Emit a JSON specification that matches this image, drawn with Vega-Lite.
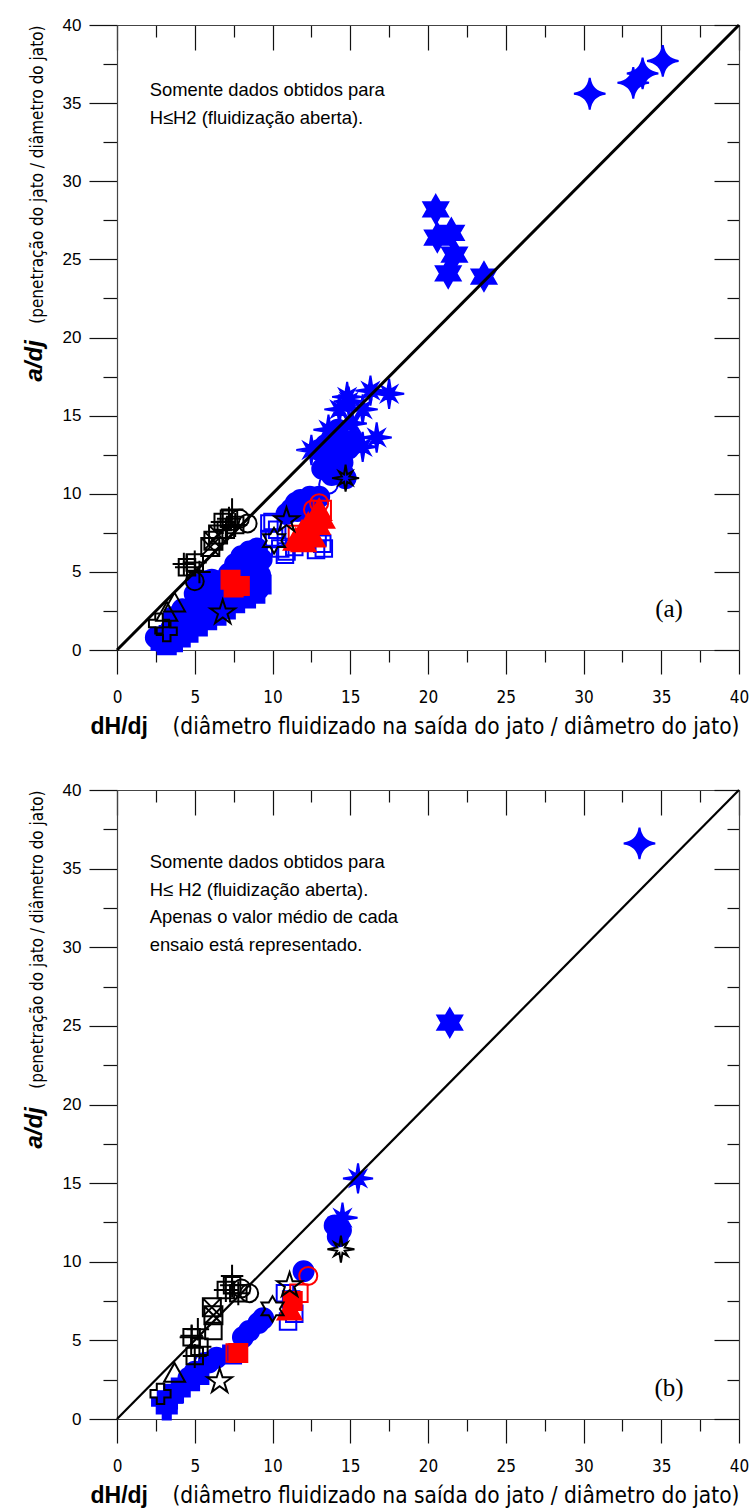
{
  "$schema": "https://vega.github.io/schema/vega-lite/v6.json",
  "background": "white",
  "padding": {"left": 22, "top": 16, "right": 5, "bottom": 5},
  "autosize": {"type": "pad"},
  "spacing": 43,
  "config": {
    "view": {"stroke": null},
    "axis": {"grid": false, "domainColor": "#444444", "tickColor": "#111111", "labelColor": "black", "titleColor": "black", "tickWidth": 1.2, "domainWidth": 1.2}
  },
  "datasets": {
    "a": [
      {"x":2.5,"y":0.8,"s":"bc"},{"x":2.9,"y":0.5,"s":"bc"},{"x":3.2,"y":1.0,"s":"bc"},{"x":3.5,"y":1.4,"s":"bc"},{"x":3.8,"y":0.9,"s":"bc"},{"x":4.0,"y":1.8,"s":"bc"},{"x":4.3,"y":1.3,"s":"bc"},{"x":4.5,"y":2.3,"s":"bc"},{"x":4.7,"y":1.7,"s":"bc"},{"x":4.9,"y":2.8,"s":"bc"},{"x":5.0,"y":3.6,"s":"bc"},{"x":5.2,"y":4.2,"s":"bc"},{"x":5.3,"y":2.2,"s":"bc"},{"x":5.5,"y":3.1,"s":"bc"},{"x":5.7,"y":4.4,"s":"bc"},{"x":5.8,"y":2.6,"s":"bc"},{"x":6.0,"y":3.6,"s":"bc"},{"x":6.1,"y":4.5,"s":"bc"},{"x":6.3,"y":3.0,"s":"bc"},{"x":6.5,"y":4.4,"s":"bc"},{"x":6.6,"y":3.8,"s":"bc"},{"x":6.8,"y":2.8,"s":"bc"},{"x":7.0,"y":3.4,"s":"bc"},{"x":7.2,"y":4.9,"s":"bc"},{"x":7.4,"y":3.1,"s":"bc"},{"x":7.6,"y":5.5,"s":"bc"},{"x":7.9,"y":4.8,"s":"bc"},{"x":8.0,"y":6.0,"s":"bc"},{"x":8.2,"y":3.5,"s":"bc"},{"x":8.3,"y":5.3,"s":"bc"},{"x":8.5,"y":6.3,"s":"bc"},{"x":8.6,"y":4.3,"s":"bc"},{"x":8.8,"y":5.6,"s":"bc"},{"x":9.0,"y":6.5,"s":"bc"},{"x":9.1,"y":3.9,"s":"bc"},{"x":9.2,"y":4.8,"s":"bc"},{"x":9.3,"y":5.8,"s":"bc"},{"x":6.2,"y":2.4,"s":"bc"},{"x":5.6,"y":2.0,"s":"bc"},{"x":4.2,"y":2.6,"s":"bc"},{"x":3.6,"y":2.1,"s":"bc"},
      {"x":11.2,"y":9.0,"s":"bc"},{"x":11.5,"y":9.4,"s":"bc"},{"x":11.8,"y":9.6,"s":"bc"},{"x":12.1,"y":9.3,"s":"bc"},{"x":12.4,"y":9.8,"s":"bc"},{"x":12.7,"y":9.5,"s":"bc"},{"x":13.0,"y":9.8,"s":"bc"},{"x":11.6,"y":8.9,"s":"bc"},{"x":12.2,"y":8.8,"s":"bc"},{"x":10.9,"y":8.7,"s":"bc"},
      {"x":13.2,"y":11.6,"s":"bc"},{"x":13.5,"y":12.3,"s":"bc"},{"x":13.4,"y":13.1,"s":"bc"},{"x":13.9,"y":13.7,"s":"bc"},{"x":14.2,"y":12.7,"s":"bc"},{"x":14.5,"y":12.0,"s":"bc"},{"x":14.9,"y":12.9,"s":"bc"},{"x":15.2,"y":13.4,"s":"bc"},{"x":13.0,"y":12.8,"s":"bc"},{"x":13.8,"y":11.2,"s":"bc"},{"x":14.2,"y":14.1,"s":"bc"},{"x":14.7,"y":11.0,"s":"bc"},
      {"x":2.8,"y":0.6,"s":"bs"},{"x":3.2,"y":0.3,"s":"bs"},{"x":3.6,"y":0.5,"s":"bs"},{"x":4.1,"y":0.8,"s":"bs"},{"x":4.6,"y":1.1,"s":"bs"},{"x":5.2,"y":1.5,"s":"bs"},{"x":5.8,"y":1.9,"s":"bs"},{"x":6.4,"y":2.2,"s":"bs"},{"x":7.0,"y":2.6,"s":"bs"},{"x":7.6,"y":3.0,"s":"bs"},{"x":8.3,"y":3.3,"s":"bs"},{"x":8.9,"y":3.6,"s":"bs"},{"x":9.3,"y":4.2,"s":"bs"},
      {"x":3.0,"y":0.9,"s":"bx"},{"x":3.4,"y":0.8,"s":"bx"},
      {"x":9.8,"y":8.1,"s":"bos"},{"x":9.8,"y":7.1,"s":"bos"},{"x":10.0,"y":8.2,"s":"bos"},{"x":10.1,"y":7.2,"s":"bos"},{"x":10.3,"y":7.7,"s":"bos"},{"x":10.5,"y":6.5,"s":"bos"},{"x":10.9,"y":6.3,"s":"bos"},{"x":10.8,"y":6.1,"s":"bos"},{"x":12.9,"y":7.2,"s":"bos"},{"x":13.3,"y":6.5,"s":"bos"},{"x":12.8,"y":6.4,"s":"bos"},{"x":13.2,"y":6.8,"s":"bos"},{"x":11.4,"y":6.6,"s":"bos"},
      {"x":14.6,"y":11.3,"s":"boc"},{"x":13.6,"y":10.6,"s":"boc"},
      {"x":14.8,"y":16.2,"s":"b8"},{"x":16.3,"y":16.6,"s":"b8"},{"x":17.5,"y":16.4,"s":"b8"},{"x":15.8,"y":15.4,"s":"b8"},{"x":16.7,"y":13.6,"s":"b8"},{"x":12.5,"y":12.8,"s":"b8"},{"x":15.8,"y":13.0,"s":"b8"},{"x":14.3,"y":15.4,"s":"b8"},{"x":15.1,"y":14.5,"s":"b8"},{"x":13.6,"y":14.1,"s":"b8"},{"x":14.9,"y":15.9,"s":"b8"},
      {"x":20.5,"y":28.2,"s":"b6"},{"x":20.6,"y":26.4,"s":"b6"},{"x":21.5,"y":26.7,"s":"b6"},{"x":21.7,"y":25.3,"s":"b6"},{"x":21.3,"y":24.1,"s":"b6"},{"x":23.6,"y":23.9,"s":"b6"},
      {"x":30.4,"y":35.6,"s":"b4"},{"x":33.2,"y":36.3,"s":"b4"},{"x":33.8,"y":36.9,"s":"b4"},{"x":35.1,"y":37.7,"s":"b4"},
      {"x":7.3,"y":4.5,"s":"rs"},{"x":7.9,"y":4.1,"s":"rs"},{"x":7.5,"y":4.0,"s":"rs"},
      {"x":11.6,"y":7.4,"s":"ros"},{"x":12.8,"y":8.0,"s":"ros"},{"x":13.2,"y":9.0,"s":"ros"},
      {"x":11.5,"y":7.0,"s":"rt"},{"x":11.9,"y":7.5,"s":"rt"},{"x":12.3,"y":8.0,"s":"rt"},{"x":12.7,"y":8.4,"s":"rt"},{"x":13.0,"y":8.9,"s":"rt"},{"x":12.0,"y":6.9,"s":"rt"},{"x":12.6,"y":7.2,"s":"rt"},{"x":12.2,"y":7.6,"s":"rt"},{"x":12.9,"y":8.0,"s":"rt"},{"x":13.2,"y":8.4,"s":"rt"},{"x":11.8,"y":7.0,"s":"rt"},
      {"x":13.0,"y":9.4,"s":"roc"},{"x":12.6,"y":9.0,"s":"roc"},
      {"x":2.7,"y":1.7,"s":"kp"},{"x":3.2,"y":1.2,"s":"kp"},
      {"x":3.7,"y":3.0,"s":"kt"},{"x":3.2,"y":2.4,"s":"kt"},
      {"x":4.5,"y":5.3,"s":"kh"},{"x":5.0,"y":5.6,"s":"kh"},{"x":6.8,"y":8.2,"s":"kh"},{"x":7.2,"y":8.4,"s":"kh"},{"x":7.6,"y":8.0,"s":"kh"},{"x":7.0,"y":7.7,"s":"kh"},
      {"x":6.2,"y":7.0,"s":"kq"},{"x":6.0,"y":6.6,"s":"kq"},{"x":6.5,"y":7.4,"s":"kq"},
      {"x":8.4,"y":8.1,"s":"ko"},{"x":7.9,"y":8.4,"s":"ko"},{"x":5.0,"y":4.4,"s":"ko"},
      {"x":7.4,"y":9.0,"s":"kc"},{"x":5.3,"y":5.0,"s":"kc"},{"x":4.3,"y":5.5,"s":"kc"},
      {"x":6.8,"y":2.4,"s":"k5"},{"x":10.9,"y":8.3,"s":"k5"},
      {"x":10.1,"y":7.0,"s":"k6"},
      {"x":14.7,"y":11.0,"s":"k8"}
    ],
    "b": [
      {"x":8.5,"y":5.6,"s":"bc"},{"x":9.1,"y":6.1,"s":"bc"},{"x":9.4,"y":6.4,"s":"bc"},{"x":8.1,"y":5.2,"s":"bc"},{"x":5.9,"y":3.6,"s":"bc"},{"x":6.4,"y":3.9,"s":"bc"},{"x":5.0,"y":3.0,"s":"bc"},{"x":4.6,"y":2.6,"s":"bc"},{"x":12.0,"y":9.4,"s":"bc"},{"x":14.0,"y":12.3,"s":"bc"},{"x":14.4,"y":12.0,"s":"bc"},{"x":14.2,"y":11.6,"s":"bc"},
      {"x":3.6,"y":1.6,"s":"bs"},{"x":4.1,"y":2.0,"s":"bs"},{"x":4.7,"y":2.4,"s":"bs"},{"x":5.3,"y":2.8,"s":"bs"},{"x":3.2,"y":1.2,"s":"bs"},{"x":7.4,"y":4.1,"s":"bs"},
      {"x":2.9,"y":1.1,"s":"bx"},{"x":3.2,"y":0.6,"s":"bx"},{"x":3.6,"y":1.3,"s":"bx"},
      {"x":10.8,"y":8.0,"s":"bos"},{"x":11.0,"y":6.2,"s":"bos"},{"x":11.4,"y":6.7,"s":"bos"},{"x":11.2,"y":7.6,"s":"bos"},
      {"x":5.6,"y":3.6,"s":"boc"},
      {"x":15.5,"y":15.3,"s":"b8"},{"x":14.5,"y":12.8,"s":"b8"},
      {"x":21.4,"y":25.2,"s":"b6"},
      {"x":33.6,"y":36.6,"s":"b4"},
      {"x":7.8,"y":4.2,"s":"rs"},{"x":11.3,"y":7.5,"s":"rs"},
      {"x":7.6,"y":4.2,"s":"ros"},{"x":11.7,"y":8.0,"s":"ros"},
      {"x":11.1,"y":6.9,"s":"rt"},
      {"x":12.3,"y":9.1,"s":"roc"},
      {"x":2.8,"y":1.6,"s":"kp"},
      {"x":3.7,"y":2.9,"s":"kt"},
      {"x":4.8,"y":5.2,"s":"kh"},{"x":5.3,"y":4.6,"s":"kh"},{"x":5.0,"y":4.0,"s":"kh"},{"x":7.0,"y":8.2,"s":"kh"},{"x":7.4,"y":8.5,"s":"kh"},{"x":7.8,"y":8.0,"s":"kh"},
      {"x":6.1,"y":7.1,"s":"kq"},{"x":6.2,"y":6.6,"s":"kq"},
      {"x":6.2,"y":5.6,"s":"ks"},
      {"x":8.5,"y":8.0,"s":"ko"},{"x":8.0,"y":8.3,"s":"ko"},
      {"x":7.4,"y":9.1,"s":"kc"},{"x":4.8,"y":5.3,"s":"kc"},{"x":5.2,"y":5.7,"s":"kc"},
      {"x":11.1,"y":8.5,"s":"k5"},{"x":6.6,"y":2.4,"s":"k5"},
      {"x":10.0,"y":7.0,"s":"k6"},
      {"x":14.4,"y":10.8,"s":"k8"}
    ],
    "diag": [{"x":0,"y":0},{"x":40,"y":40}],
    "notesA": [{"x":2.1,"y":36.4,"t":"Somente dados obtidos para\nH≤H2 (fluidização aberta)."}],
    "notesB": [{"x":2.1,"y":36.0,"t":"Somente dados obtidos para\nH≤ H2 (fluidização aberta).\nApenas o valor médio de cada\nensaio está representado."}],
    "labA": [{"x":35.5,"y":2.6,"t":"(a)"}],
    "labB": [{"x":35.5,"y":2.0,"t":"(b)"}]
  },
  "vconcat": [
    {
      "width": 622, "height": 625,
      "resolve": {"axis": {"x": "independent", "y": "independent"}},
      "layer": [
        {
          "data": {"name": "a"},
          "mark": {"type": "point", "opacity": 1, "strokeWidth": 2, "size": 900},
          "encoding": {
            "x": {"field": "x", "type": "quantitative", "scale": {"domain": [0, 40], "nice": false, "zero": false},
              "axis": {"orient": "bottom", "values": [0,2.5,5,7.5,10,12.5,15,17.5,20,22.5,25,27.5,30,32.5,35,37.5,40],
                "tickSize": {"condition": {"test": "datum.value % 5 !== 0", "value": 12}, "value": 24},
                "labelExpr": "datum.value % 5 === 0 ? datum.label : ''", "labelFlush": false, "labelOverlap": false,
                "labelFont": "Liberation Sans Narrow, DejaVu Sans Condensed, sans-serif", "labelFontSize": 17, "labelPadding": 15,
                "title": "(diâmetro fluidizado na saída do jato / diâmetro do jato)", "titleFont": "Liberation Sans Narrow, DejaVu Sans Condensed, sans-serif",
                "titleFontSize": 22.5, "titleFontWeight": "normal", "titleAnchor": "end", "titlePadding": 10}},
            "y": {"field": "y", "type": "quantitative", "scale": {"domain": [0, 40], "nice": false, "zero": false},
              "axis": {"orient": "left", "values": [0,2.5,5,7.5,10,12.5,15,17.5,20,22.5,25,27.5,30,32.5,35,37.5,40],
                "tickSize": {"condition": {"test": "datum.value % 5 !== 0", "value": 14}, "value": 28},
                "labelExpr": "datum.value % 5 === 0 ? datum.label : ''", "labelFlush": false, "labelOverlap": false,
                "labelFont": "Liberation Sans, Arial, sans-serif", "labelFontSize": 17, "labelPadding": 8,
                "title": "(penetração do jato / diâmetro do jato)", "titleFont": "Liberation Sans Narrow, DejaVu Sans Condensed, sans-serif",
                "titleFontSize": 17, "titleFontWeight": "normal", "titleAnchor": "end", "titlePadding": 16}},
            "shape": {"field": "s", "type": "nominal", "legend": null, "scale": {
              "domain": ["bc","bs","bx","bos","boc","b8","b6","b4","rs","ros","rt","roc","kp","kt","kh","kq","ks","ko","kc","k5","k6","k8"],
              "range": [
                "M0.667,0A0.667,0.667,0,1,1,-0.667,0A0.667,0.667,0,1,1,0.667,0Z",
                "M-0.6,-0.6H0.6V0.6H-0.6Z",
                "M-0.27,-0.67H0.27V-0.27H0.67V0.27H0.27V0.67H-0.27V0.27H-0.67V-0.27H-0.27Z",
                "M-0.55,-0.55H0.55V0.55H-0.55Z",
                "M0.62,0A0.62,0.62,0,1,1,-0.62,0A0.62,0.62,0,1,1,0.62,0Z",
                "M0,-1L0.115,-0.277L0.495,-0.495L0.277,-0.115L1,0L0.277,0.115L0.495,0.495L0.115,0.277L0,1L-0.115,0.277L-0.495,0.495L-0.277,0.115L-1,0L-0.277,-0.115L-0.495,-0.495L-0.115,-0.277Z",
                "M0,-0.95L0.274,-0.475L0.823,-0.475L0.548,0L0.823,0.475L0.274,0.475L0,0.95L-0.274,0.475L-0.823,0.475L-0.548,0L-0.823,-0.475L-0.274,-0.475Z",
                "M0,-1.05Q0.12,-0.12,1.05,0Q0.12,0.12,0,1.05Q-0.12,0.12,-1.05,0Q-0.12,-0.12,0,-1.05Z",
                "M-0.6,-0.6H0.6V0.6H-0.6Z",
                "M-0.58,-0.58H0.58V0.58H-0.58Z",
                "M0,-0.8L0.8,0.6L-0.8,0.6Z",
                "M0.6,0A0.6,0.6,0,1,1,-0.6,0A0.6,0.6,0,1,1,0.6,0Z",
                "M-0.25,-0.67H0.25V-0.25H0.67V0.25H0.25V0.67H-0.25V0.25H-0.67V-0.25H-0.25Z",
                "M0,-0.7L0.7,0.55L-0.7,0.55Z",
                "M-0.55,-0.55H0.55V0.55H-0.55Z M0,-0.8V0.8 M-0.8,0H0.8",
                "M-0.6,-0.6H0.6V0.6H-0.6Z M-0.6,-0.6L0.6,0.6 M0.6,-0.6L-0.6,0.6",
                "M-0.55,-0.55H0.55V0.55H-0.55Z",
                "M0.6,0A0.6,0.6,0,1,1,-0.6,0A0.6,0.6,0,1,1,0.6,0Z",
                "M0,-0.75V0.75M-0.75,0H0.75",
                "M0,-0.87L0.196,-0.269L0.827,-0.269L0.316,0.103L0.512,0.704L0,0.332L-0.512,0.704L-0.316,0.103L-0.827,-0.269L-0.196,-0.269Z",
                "M0,-0.85L0.245,-0.425L0.736,-0.425L0.491,0L0.736,0.425L0.245,0.425L0,0.85L-0.245,0.425L-0.736,0.425L-0.491,0L-0.736,-0.425L-0.245,-0.425Z",
                "M0,-0.9L0.104,-0.249L0.445,-0.445L0.249,-0.104L0.9,0L0.249,0.104L0.445,0.445L0.104,0.249L0,0.9L-0.104,0.249L-0.445,0.445L-0.249,0.104L-0.9,0L-0.249,-0.104L-0.445,-0.445L-0.104,-0.249Z"
              ]}},
            "fill": {"field": "s", "type": "nominal", "legend": null, "scale": {
              "domain": ["bc","bs","bx","bos","boc","b8","b6","b4","rs","ros","rt","roc","kp","kt","kh","kq","ks","ko","kc","k5","k6","k8"],
              "range": ["#0000ff","#0000ff","#0000ff","transparent","transparent","#0000ff","#0000ff","#0000ff","#ff0000","transparent","#ff0000","transparent","transparent","transparent","transparent","transparent","transparent","transparent","transparent","transparent","transparent","transparent"]}},
            "stroke": {"field": "s", "type": "nominal", "legend": null, "scale": {
              "domain": ["bc","bs","bx","bos","boc","b8","b6","b4","rs","ros","rt","roc","kp","kt","kh","kq","ks","ko","kc","k5","k6","k8"],
              "range": ["#0000ff","#0000ff","#0000ff","#0000ff","#0000ff","#0000ff","#0000ff","#0000ff","#ff0000","#ff0000","#ff0000","#ff0000","#000000","#000000","#000000","#000000","#000000","#000000","#000000","#000000","#000000","#000000"]}}
          }
        },
        {
          "data": {"name": "diag"},
          "mark": {"type": "line", "color": "black", "strokeWidth": 3},
          "encoding": {
            "x": {"field": "x", "type": "quantitative", "axis": {"orient": "top", "values": [0,2.5,5,7.5,10,12.5,15,17.5,20,22.5,25,27.5,30,32.5,35,37.5,40], "tickSize": {"condition": {"test": "datum.value % 5 !== 0", "value": -12}, "value": -25}, "labels": false, "title": null}},
            "y": {"field": "y", "type": "quantitative", "axis": {"orient": "right", "values": [0,2.5,5,7.5,10,12.5,15,17.5,20,22.5,25,27.5,30,32.5,35,37.5,40], "tickSize": {"condition": {"test": "datum.value % 5 !== 0", "value": -12}, "value": -25}, "labels": false, "title": null}}
          }
        },
        {
          "data": {"name": "notesA"},
          "mark": {"type": "text", "align": "left", "baseline": "top", "font": "Liberation Sans, Arial, sans-serif", "fontSize": 18.4, "lineBreak": "\n", "lineHeight": 27.5},
          "encoding": {
            "x": {"field": "x", "type": "quantitative", "axis": {"orient": "bottom", "values": [0,2.5,5,7.5,10,12.5,15,17.5,20,22.5,25,27.5,30,32.5,35,37.5,40],
                "tickSize": {"condition": {"test": "datum.value % 5 !== 0", "value": 12}, "value": 24}, "tickOpacity": 0, "domain": false,
                "labelExpr": "datum.value % 5 === 0 ? datum.label : ''", "labelFlush": false, "labelOverlap": false, "labelOpacity": 0,
                "labelFont": "Liberation Sans Narrow, DejaVu Sans Condensed, sans-serif", "labelFontSize": 17, "labelPadding": 15,
                "title": "dH/dj", "titleFont": "Liberation Sans, Arial, sans-serif", "titleFontSize": 23, "titleFontWeight": "bold",
                "titleAnchor": "start", "titleAlign": "left", "titleX": -27, "titlePadding": 10}},
            "y": {"field": "y", "type": "quantitative", "axis": {"orient": "left", "values": [0,2.5,5,7.5,10,12.5,15,17.5,20,22.5,25,27.5,30,32.5,35,37.5,40],
                "tickSize": {"condition": {"test": "datum.value % 5 !== 0", "value": 14}, "value": 28}, "tickOpacity": 0, "domain": false,
                "labelExpr": "datum.value % 5 === 0 ? datum.label : ''", "labelFlush": false, "labelOverlap": false, "labelOpacity": 0,
                "labelFont": "Liberation Sans, Arial, sans-serif", "labelFontSize": 17, "labelPadding": 8,
                "title": "a/dj", "titleFont": "Liberation Sans, Arial, sans-serif", "titleFontSize": 24, "titleFontWeight": "bold", "titleFontStyle": "italic",
                "titleAlign": "left", "titleY": 356, "titlePadding": 16}},
            "text": {"field": "t", "type": "nominal"}
          }
        },
        {
          "data": {"name": "labA"},
          "mark": {"type": "text", "align": "center", "baseline": "middle", "font": "Liberation Serif, Times New Roman, serif", "fontSize": 25},
          "encoding": {
            "x": {"field": "x", "type": "quantitative", "axis": null},
            "y": {"field": "y", "type": "quantitative", "axis": null},
            "text": {"field": "t", "type": "nominal"}
          }
        }
      ]
    },
    {
      "width": 622, "height": 629,
      "resolve": {"axis": {"x": "independent", "y": "independent"}},
      "layer": [
        {
          "data": {"name": "b"},
          "mark": {"type": "point", "opacity": 1, "strokeWidth": 2, "size": 900},
          "encoding": {
            "x": {"field": "x", "type": "quantitative", "scale": {"domain": [0, 40], "nice": false, "zero": false},
              "axis": {"orient": "bottom", "values": [0,2.5,5,7.5,10,12.5,15,17.5,20,22.5,25,27.5,30,32.5,35,37.5,40],
                "tickSize": {"condition": {"test": "datum.value % 5 !== 0", "value": 12}, "value": 24},
                "labelExpr": "datum.value % 5 === 0 ? datum.label : ''", "labelFlush": false, "labelOverlap": false,
                "labelFont": "Liberation Sans Narrow, DejaVu Sans Condensed, sans-serif", "labelFontSize": 17, "labelPadding": 15,
                "title": "(diâmetro fluidizado na saída do jato / diâmetro do jato)", "titleFont": "Liberation Sans Narrow, DejaVu Sans Condensed, sans-serif",
                "titleFontSize": 22.5, "titleFontWeight": "normal", "titleAnchor": "end", "titlePadding": 10}},
            "y": {"field": "y", "type": "quantitative", "scale": {"domain": [0, 40], "nice": false, "zero": false},
              "axis": {"orient": "left", "values": [0,2.5,5,7.5,10,12.5,15,17.5,20,22.5,25,27.5,30,32.5,35,37.5,40],
                "tickSize": {"condition": {"test": "datum.value % 5 !== 0", "value": 14}, "value": 28},
                "labelExpr": "datum.value % 5 === 0 ? datum.label : ''", "labelFlush": false, "labelOverlap": false,
                "labelFont": "Liberation Sans, Arial, sans-serif", "labelFontSize": 17, "labelPadding": 8,
                "title": "(penetração do jato / diâmetro do jato)", "titleFont": "Liberation Sans Narrow, DejaVu Sans Condensed, sans-serif",
                "titleFontSize": 17, "titleFontWeight": "normal", "titleAnchor": "end", "titlePadding": 16}},
            "shape": {"field": "s", "type": "nominal", "legend": null, "scale": {
              "domain": ["bc","bs","bx","bos","boc","b8","b6","b4","rs","ros","rt","roc","kp","kt","kh","kq","ks","ko","kc","k5","k6","k8"],
              "range": [
                "M0.667,0A0.667,0.667,0,1,1,-0.667,0A0.667,0.667,0,1,1,0.667,0Z",
                "M-0.6,-0.6H0.6V0.6H-0.6Z",
                "M-0.27,-0.67H0.27V-0.27H0.67V0.27H0.27V0.67H-0.27V0.27H-0.67V-0.27H-0.27Z",
                "M-0.55,-0.55H0.55V0.55H-0.55Z",
                "M0.62,0A0.62,0.62,0,1,1,-0.62,0A0.62,0.62,0,1,1,0.62,0Z",
                "M0,-1L0.115,-0.277L0.495,-0.495L0.277,-0.115L1,0L0.277,0.115L0.495,0.495L0.115,0.277L0,1L-0.115,0.277L-0.495,0.495L-0.277,0.115L-1,0L-0.277,-0.115L-0.495,-0.495L-0.115,-0.277Z",
                "M0,-0.95L0.274,-0.475L0.823,-0.475L0.548,0L0.823,0.475L0.274,0.475L0,0.95L-0.274,0.475L-0.823,0.475L-0.548,0L-0.823,-0.475L-0.274,-0.475Z",
                "M0,-1.05Q0.12,-0.12,1.05,0Q0.12,0.12,0,1.05Q-0.12,0.12,-1.05,0Q-0.12,-0.12,0,-1.05Z",
                "M-0.6,-0.6H0.6V0.6H-0.6Z",
                "M-0.58,-0.58H0.58V0.58H-0.58Z",
                "M0,-0.8L0.8,0.6L-0.8,0.6Z",
                "M0.6,0A0.6,0.6,0,1,1,-0.6,0A0.6,0.6,0,1,1,0.6,0Z",
                "M-0.25,-0.67H0.25V-0.25H0.67V0.25H0.25V0.67H-0.25V0.25H-0.67V-0.25H-0.25Z",
                "M0,-0.7L0.7,0.55L-0.7,0.55Z",
                "M-0.55,-0.55H0.55V0.55H-0.55Z M0,-0.8V0.8 M-0.8,0H0.8",
                "M-0.6,-0.6H0.6V0.6H-0.6Z M-0.6,-0.6L0.6,0.6 M0.6,-0.6L-0.6,0.6",
                "M-0.55,-0.55H0.55V0.55H-0.55Z",
                "M0.6,0A0.6,0.6,0,1,1,-0.6,0A0.6,0.6,0,1,1,0.6,0Z",
                "M0,-0.75V0.75M-0.75,0H0.75",
                "M0,-0.87L0.196,-0.269L0.827,-0.269L0.316,0.103L0.512,0.704L0,0.332L-0.512,0.704L-0.316,0.103L-0.827,-0.269L-0.196,-0.269Z",
                "M0,-0.85L0.245,-0.425L0.736,-0.425L0.491,0L0.736,0.425L0.245,0.425L0,0.85L-0.245,0.425L-0.736,0.425L-0.491,0L-0.736,-0.425L-0.245,-0.425Z",
                "M0,-0.9L0.104,-0.249L0.445,-0.445L0.249,-0.104L0.9,0L0.249,0.104L0.445,0.445L0.104,0.249L0,0.9L-0.104,0.249L-0.445,0.445L-0.249,0.104L-0.9,0L-0.249,-0.104L-0.445,-0.445L-0.104,-0.249Z"
              ]}},
            "fill": {"field": "s", "type": "nominal", "legend": null, "scale": {
              "domain": ["bc","bs","bx","bos","boc","b8","b6","b4","rs","ros","rt","roc","kp","kt","kh","kq","ks","ko","kc","k5","k6","k8"],
              "range": ["#0000ff","#0000ff","#0000ff","transparent","transparent","#0000ff","#0000ff","#0000ff","#ff0000","transparent","#ff0000","transparent","transparent","transparent","transparent","transparent","transparent","transparent","transparent","transparent","transparent","transparent"]}},
            "stroke": {"field": "s", "type": "nominal", "legend": null, "scale": {
              "domain": ["bc","bs","bx","bos","boc","b8","b6","b4","rs","ros","rt","roc","kp","kt","kh","kq","ks","ko","kc","k5","k6","k8"],
              "range": ["#0000ff","#0000ff","#0000ff","#0000ff","#0000ff","#0000ff","#0000ff","#0000ff","#ff0000","#ff0000","#ff0000","#ff0000","#000000","#000000","#000000","#000000","#000000","#000000","#000000","#000000","#000000","#000000"]}}
          }
        },
        {
          "data": {"name": "diag"},
          "mark": {"type": "line", "color": "black", "strokeWidth": 2.2},
          "encoding": {
            "x": {"field": "x", "type": "quantitative", "axis": {"orient": "top", "values": [0,2.5,5,7.5,10,12.5,15,17.5,20,22.5,25,27.5,30,32.5,35,37.5,40], "tickSize": {"condition": {"test": "datum.value % 5 !== 0", "value": -12}, "value": -25}, "labels": false, "title": null}},
            "y": {"field": "y", "type": "quantitative", "axis": {"orient": "right", "values": [0,2.5,5,7.5,10,12.5,15,17.5,20,22.5,25,27.5,30,32.5,35,37.5,40], "tickSize": {"condition": {"test": "datum.value % 5 !== 0", "value": -12}, "value": -25}, "labels": false, "title": null}}
          }
        },
        {
          "data": {"name": "notesB"},
          "mark": {"type": "text", "align": "left", "baseline": "top", "font": "Liberation Sans, Arial, sans-serif", "fontSize": 18.4, "lineBreak": "\n", "lineHeight": 27.7},
          "encoding": {
            "x": {"field": "x", "type": "quantitative", "axis": {"orient": "bottom", "values": [0,2.5,5,7.5,10,12.5,15,17.5,20,22.5,25,27.5,30,32.5,35,37.5,40],
                "tickSize": {"condition": {"test": "datum.value % 5 !== 0", "value": 12}, "value": 24}, "tickOpacity": 0, "domain": false,
                "labelExpr": "datum.value % 5 === 0 ? datum.label : ''", "labelFlush": false, "labelOverlap": false, "labelOpacity": 0,
                "labelFont": "Liberation Sans Narrow, DejaVu Sans Condensed, sans-serif", "labelFontSize": 17, "labelPadding": 15,
                "title": "dH/dj", "titleFont": "Liberation Sans, Arial, sans-serif", "titleFontSize": 23, "titleFontWeight": "bold",
                "titleAnchor": "start", "titleAlign": "left", "titleX": -27, "titlePadding": 10}},
            "y": {"field": "y", "type": "quantitative", "axis": {"orient": "left", "values": [0,2.5,5,7.5,10,12.5,15,17.5,20,22.5,25,27.5,30,32.5,35,37.5,40],
                "tickSize": {"condition": {"test": "datum.value % 5 !== 0", "value": 14}, "value": 28}, "tickOpacity": 0, "domain": false,
                "labelExpr": "datum.value % 5 === 0 ? datum.label : ''", "labelFlush": false, "labelOverlap": false, "labelOpacity": 0,
                "labelFont": "Liberation Sans, Arial, sans-serif", "labelFontSize": 17, "labelPadding": 8,
                "title": "a/dj", "titleFont": "Liberation Sans, Arial, sans-serif", "titleFontSize": 24, "titleFontWeight": "bold", "titleFontStyle": "italic",
                "titleAlign": "left", "titleY": 358, "titlePadding": 16}},
            "text": {"field": "t", "type": "nominal"}
          }
        },
        {
          "data": {"name": "labB"},
          "mark": {"type": "text", "align": "center", "baseline": "middle", "font": "Liberation Serif, Times New Roman, serif", "fontSize": 25},
          "encoding": {
            "x": {"field": "x", "type": "quantitative", "axis": null},
            "y": {"field": "y", "type": "quantitative", "axis": null},
            "text": {"field": "t", "type": "nominal"}
          }
        }
      ]
    }
  ]
}
